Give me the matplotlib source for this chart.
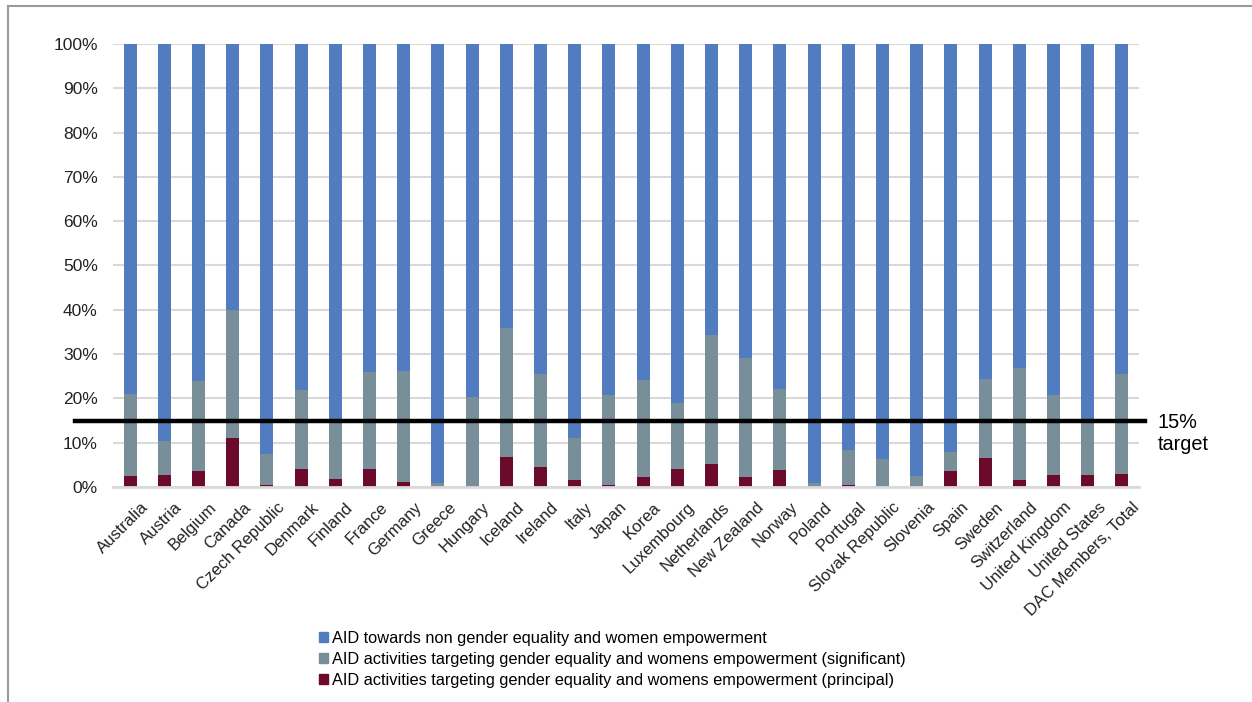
import matplotlib
matplotlib.use("Agg")
import matplotlib.pyplot as plt
import matplotlib.transforms as mtransforms
import numpy as np
from matplotlib.ticker import PercentFormatter
from matplotlib.patches import Patch
from matplotlib.lines import Line2D

plt.rcParams['font.family'] = ['Liberation Sans', 'DejaVu Sans']

countries = ['Australia', 'Austria', 'Belgium', 'Canada', 'Czech Republic', 'Denmark',
             'Finland', 'France', 'Germany', 'Greece', 'Hungary', 'Iceland', 'Ireland',
             'Italy', 'Japan', 'Korea', 'Luxembourg', 'Netherlands', 'New Zealand',
             'Norway', 'Poland', 'Portugal', 'Slovak Republic', 'Slovenia', 'Spain',
             'Sweden', 'Switzerland', 'United Kingdom', 'United States', 'DAC Members, Total']

# shares of aid in %, principal / significant gender focus
principal = [2.5, 2.7, 3.6, 11.0, 0.4, 4.0, 1.8, 4.0, 1.1, 0.0,
             0.0, 6.8, 4.4, 1.6, 0.4, 2.3, 4.1, 5.3, 2.3, 3.8,
             0.0, 0.5, 0.0, 0.0, 3.6, 6.5, 1.6, 2.6, 2.7, 3.0]
significant = [18.5, 7.7, 20.4, 29.0, 7.0, 18.0, 13.4, 22.0, 25.1, 0.9,
               20.3, 29.0, 21.2, 9.5, 20.4, 21.9, 14.9, 28.9, 26.9, 18.4,
               1.0, 7.9, 6.3, 2.5, 4.2, 17.8, 25.3, 18.2, 12.6, 22.4]
target = 15

principal = np.array(principal)
significant = np.array(significant)
non_gender = 100 - principal - significant

c_non = '#517DC0'
c_sig = '#788E98'
c_pri = '#6B0A2B'

fig = plt.figure(figsize=(12.52, 7.02), dpi=100)
ax = fig.add_axes([0.0903, 0.3063, 0.8195, 0.631])

x = np.arange(len(countries))
barWidth = 0.38
ax.bar(x, principal, width=barWidth, color=c_pri, zorder=2)
ax.bar(x, significant, bottom=principal, width=barWidth, color=c_sig, zorder=2)
ax.bar(x, non_gender, bottom=principal + significant, width=barWidth, color=c_non, zorder=2)

ax.set_xlim(-0.5, len(countries) - 0.5)
ax.set_ylim(0, 100)
ax.set_yticks(np.arange(0, 101, 10))
ax.yaxis.set_major_formatter(PercentFormatter(decimals=0))
ax.grid(axis='y', color='#D9D9D9', linewidth=1.5, zorder=0)
for s in ['top', 'right', 'left']:
    ax.spines[s].set_visible(False)
ax.spines['bottom'].set_color('#D9D9D9')
ax.spines['bottom'].set_linewidth(2)
ax.tick_params(axis='both', length=0, colors='#222222')
ax.tick_params(axis='y', pad=11, labelsize=12.5)
ax.tick_params(axis='x', pad=4, labelsize=12)

ax.set_xticks(x)
ax.set_xticklabels(countries, rotation=45, ha='right', va='top', rotation_mode='anchor')
shift = mtransforms.ScaledTranslation(10 / 100, -7 / 100, fig.dpi_scale_trans)
for lbl in ax.get_xticklabels():
    lbl.set_transform(lbl.get_transform() + shift)

# 15% target line, runs past the axes on both sides
ax.axhline(target, xmin=-0.037, xmax=1.006, color='black', linewidth=3.2, clip_on=False, zorder=3)
ax.text(1.018, target + 1.6, '15%\ntarget', transform=ax.get_yaxis_transform(),
        fontsize=14.3, va='top', ha='left', linespacing=1.2)

handles = [Patch(color=c_non), Patch(color=c_sig), Patch(color=c_pri)]
labels = ['AID towards non gender equality and women empowerment',
          'AID activities targeting gender equality and womens empowerment (significant)',
          'AID activities targeting gender equality and womens empowerment (principal)']
fig.legend(handles, labels, loc='upper left', bbox_to_anchor=(0.243, 1 - 616 / 702),
           bbox_transform=fig.transFigure, frameon=False, fontsize=11.8,
           handlelength=0.55, handleheight=0.55, handletextpad=0.25, labelspacing=0.38)

# frame around the chart area (left and top edges)
fig.add_artist(Line2D([8 / 1252, 8 / 1252], [0, 1 - 6 / 702], color='#9A9A9A', linewidth=1.5))
fig.add_artist(Line2D([8 / 1252, 1], [1 - 6 / 702, 1 - 6 / 702], color='#9A9A9A', linewidth=1.5))

fig.savefig('out.png', dpi=100)
